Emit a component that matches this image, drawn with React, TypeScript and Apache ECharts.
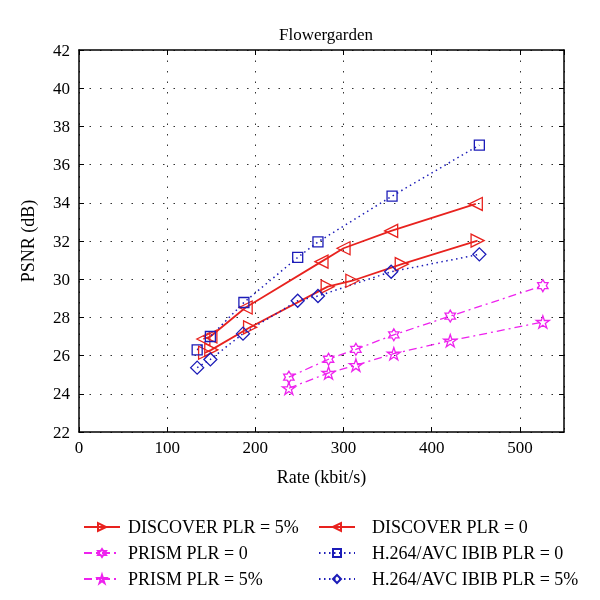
import React, { useEffect, useRef } from 'react';
import * as echarts from 'echarts';

const xTicks = [0, 100, 200, 300, 400, 500];
const yTicks = [22, 24, 26, 28, 30, 32, 34, 36, 38, 40, 42];

const discover5Rate = [143, 150, 194, 282, 310, 366, 452];
const discover5Psnr = [26.15, 26.3, 27.48, 29.61, 29.92, 30.79, 32.02];

const discover0Rate = [141, 149, 189, 275, 300, 354, 450];
const discover0Psnr = [26.87, 27.0, 28.52, 30.92, 31.62, 32.53, 33.94];

const h264p0Rate = [134, 149, 187, 248, 271, 355, 454];
const h264p0Psnr = [26.3, 27.0, 28.78, 31.14, 31.95, 34.35, 37.02];

const h264p5Rate = [134, 149, 186, 248, 271, 354, 454];
const h264p5Psnr = [25.37, 25.8, 27.15, 28.87, 29.12, 30.39, 31.3];

const prism0Rate = [238, 283, 314, 357, 421, 526];
const prism0Psnr = [24.87, 25.81, 26.33, 27.09, 28.07, 29.66];

const prism5Rate = [238, 283, 314, 357, 421, 526];
const prism5Psnr = [24.29, 25.09, 25.5, 26.1, 26.78, 27.76];

const RED = '#e8221e';
const MAG = '#ee22ee';
const BLUE = '#1c1cb8';
const FONT = '"Liberation Serif", "Times New Roman", serif';

const HEXAGRAM =
  'path://M0,-100 L28.87,-50 L86.6,-50 L57.74,0 L86.6,50 L28.87,50 L0,100 L-28.87,50 L-86.6,50 L-57.74,0 L-86.6,-50 L-28.87,-50 Z';
const STAR5 =
  'path://M0,-100 L22.45,-30.9 L95.1,-30.9 L36.33,11.8 L58.78,80.9 L0,38.2 L-58.78,80.9 L-36.33,11.8 L-95.1,-30.9 L-22.45,-30.9 Z';

const zip = (a: number[], b: number[]) => a.map((v, i) => [v, b[i]]);

export default function App() {
  const ref = useRef<HTMLDivElement>(null);
  useEffect(() => {
    const chart = echarts.init(ref.current!, null, { renderer: 'svg' });
    const gridLine = { show: true, lineStyle: { color: '#333', width: 1, type: [1.5, 9] as any } };
    const axisLine = { show: true, onZero: false, lineStyle: { color: '#000', width: 1.5 } };
    const tick = { show: true, inside: true, length: 5, lineStyle: { color: '#000', width: 1 } };
    const label = { color: '#000', fontSize: 17, fontFamily: FONT };
    const nameStyle = { color: '#000', fontSize: 18, fontFamily: FONT };

    const mkSeries = (
      name: string,
      data: number[][],
      color: string,
      symbol: string,
      symbolSize: number,
      lineType: any,
      rotate = 0,
      width = 1.5
    ) => ({
      name,
      type: 'line',
      data,
      symbol,
      symbolSize,
      symbolRotate: rotate,
      symbolKeepAspect: true,
      showAllSymbol: true,
      lineStyle: { color, width, type: lineType },
      itemStyle: { color: 'rgba(255,255,255,0)', borderColor: color, borderWidth: 1.3 },
      emphasis: { disabled: true },
      z: 3,
    });

    const legendText = { fontFamily: FONT, fontSize: 18, color: '#000', lineHeight: 20 };

    chart.setOption({
      animation: false,
      title: {
        text: 'Flowergarden',
        left: 321,
        top: 21,
        textAlign: 'center',
        textStyle: { fontFamily: FONT, fontSize: 17, fontWeight: 'normal', color: '#000' },
      },
      grid: { left: 79, top: 50, right: 36, bottom: 168, containLabel: false },
      xAxis: [
        {
          type: 'value',
          min: xTicks[0],
          max: 550,
          interval: 100,
          position: 'bottom',
          axisLine,
          axisTick: tick,
          splitLine: gridLine,
          axisLabel: { ...label, margin: 7, showMaxLabel: false },
          name: 'Rate (kbit/s)',
          nameLocation: 'middle',
          nameGap: 36,
          nameTextStyle: { ...nameStyle },
        },
        {
          type: 'value',
          min: 0,
          max: 550,
          interval: 100,
          position: 'top',
          axisLine,
          axisTick: tick,
          splitLine: { show: false },
          axisLabel: { show: false },
        },
      ],
      yAxis: [
        {
          type: 'value',
          min: yTicks[0],
          max: yTicks[yTicks.length - 1],
          interval: 2,
          position: 'left',
          axisLine,
          axisTick: tick,
          splitLine: gridLine,
          axisLabel: { ...label, margin: 9 },
          name: 'PSNR (dB)',
          nameLocation: 'middle',
          nameGap: 42,
          nameTextStyle: { ...nameStyle },
        },
        {
          type: 'value',
          min: 22,
          max: 42,
          interval: 2,
          position: 'right',
          axisLine,
          axisTick: tick,
          splitLine: { show: false },
          axisLabel: { show: false },
        },
      ],
      legend: [
        {
          orient: 'vertical',
          left: 78,
          top: 512,
          itemWidth: 36,
          itemHeight: 10,
          itemGap: 6,
          textStyle: { ...legendText, padding: [0, 0, 0, 3] },
          data: ['DISCOVER PLR = 5%', 'PRISM PLR = 0', 'PRISM PLR = 5%'],
        },
        {
          orient: 'vertical',
          left: 313,
          top: 512,
          itemWidth: 36,
          itemHeight: 10,
          itemGap: 6,
          textStyle: { ...legendText, padding: [0, 0, 0, 12] },
          data: ['DISCOVER PLR = 0', 'H.264/AVC IBIB PLR = 0', 'H.264/AVC IBIB PLR = 5%'],
        },
      ],
      series: [
        mkSeries('DISCOVER PLR = 5%', zip(discover5Rate, discover5Psnr), RED, 'triangle', 13, 'solid', -90, 1.8),
        mkSeries('PRISM PLR = 0', zip(prism0Rate, prism0Psnr), MAG, HEXAGRAM, 12, [8, 4, 2, 4], 0, 1.3),
        mkSeries('PRISM PLR = 5%', zip(prism5Rate, prism5Psnr), MAG, STAR5, 13, [8, 4, 2, 4], 0, 1.3),
        mkSeries('DISCOVER PLR = 0', zip(discover0Rate, discover0Psnr), RED, 'triangle', 13, 'solid', 90, 1.8),
        mkSeries('H.264/AVC IBIB PLR = 0', zip(h264p0Rate, h264p0Psnr), BLUE, 'rect', 10, [1.5, 3.5]),
        mkSeries('H.264/AVC IBIB PLR = 5%', zip(h264p5Rate, h264p5Psnr), BLUE, 'diamond', 13, [1.5, 3.5]),
      ],
    });
    return () => chart.dispose();
  }, []);
  return <div ref={ref} style={{ position: 'fixed', left: 0, top: 0, width: 600, height: 600 }} />;
}
